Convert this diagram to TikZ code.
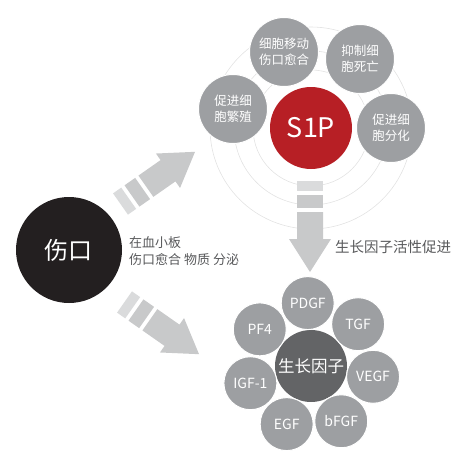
\documentclass[tikz,border=0pt]{standalone}
\usepackage{fontspec}
\setmainfont{Noto Sans CJK SC}
\usepackage{tikz}
\usetikzlibrary{calc,positioning}
\usepackage{xcolor}

\definecolor{woundblack}{HTML}{231F20}
\definecolor{sred}{HTML}{B71F25}
\definecolor{cellgray}{HTML}{9D9FA2}
\definecolor{gfdark}{HTML}{636466}
\definecolor{arrowlight}{HTML}{DADBDC}
\definecolor{arrowgray}{HTML}{C8C9CA}
\definecolor{ringgray}{HTML}{E2E2E2}
\definecolor{textgray}{HTML}{58595B}

\begin{document}
\begin{tikzpicture}[x=1pt, y=-1pt,
  ring/.style={draw=ringgray, line width=0.6pt},
  bigdisc/.style={circle, inner sep=0pt, text=white},
  cell/.style={circle, fill=cellgray, draw=white, line width=1pt, text=white, minimum size=69pt, inner sep=0pt, align=center, font=\fontsize{12.5}{16}\selectfont},
  factor/.style={circle, fill=cellgray, draw=white, line width=1pt, text=white, minimum size=53pt, inner sep=0pt, font=\fontsize{14}{16}\selectfont},
  labeltext/.style={text=textgray, align=left, anchor=west, inner sep=0pt, font=\fontsize{13}{17}\selectfont}]
  \useasboundingbox (0,0) rectangle (460,472);
  % rings round S1P
  \coordinate (s1p c) at (311,128);
  \foreach \r in {58,77,101} {
    \draw[ring] (s1p c) circle (\r);
  }
  % block arrows
  \foreach \tx/\ty/\ang in {120.5/204/35, 124.5/302/-35, 310/181/-90} {
    \begin{scope}[shift={(\tx,\ty)}, rotate=\ang]
      \fill[arrowlight] (0,-13) rectangle (10,13);
      \fill[arrowgray] (14,-13) rectangle (27,13);
      \fill[arrowgray] (31,-13) -- (58,-13) -- (58,-21) -- (91,0) -- (58,21) -- (58,13) -- (31,13) -- cycle;
    \end{scope}
  }
  % wound
  \node[bigdisc, fill=woundblack, minimum size=106pt, font=\fontsize{24}{24}\selectfont] (wound) at (69,250) {伤口};
  \node[labeltext] (release) at (129,251.5) {在血小板\\伤口愈合 物质 分泌};
  % S1P group
  \node[bigdisc, fill=sred, minimum size=82pt, font=\fontsize{27}{27}\selectfont] (s1p) at (s1p c) {S1P};
  \node[cell] (migrate) at (284,52) {细胞移动\\伤口愈合};
  \node[cell] (antideath) at (360,59) {抑制细\\胞死亡};
  \node[cell] (prolif) at (233,109) {促进细\\胞繁殖};
  \node[cell] (differ) at (391,128) {促进细\\胞分化};
  \node[labeltext, font=\fontsize{14.5}{17}\selectfont] (promote) at (335,247) {生长因子活性促进};
  % growth factors
  \node[bigdisc, fill=gfdark, minimum size=72pt, font=\fontsize{16.5}{17}\selectfont] (gf) at (311,366) {生长因子};
  \foreach \name [count=\k from 0] in {PDGF,TGF,VEGF,bFGF,EGF,IGF-1,PF4} {
    \node[factor] (f\k) at ($(gf)+({51.43*\k-93}:63)$) {\name};
  }
\end{tikzpicture}
\end{document}
